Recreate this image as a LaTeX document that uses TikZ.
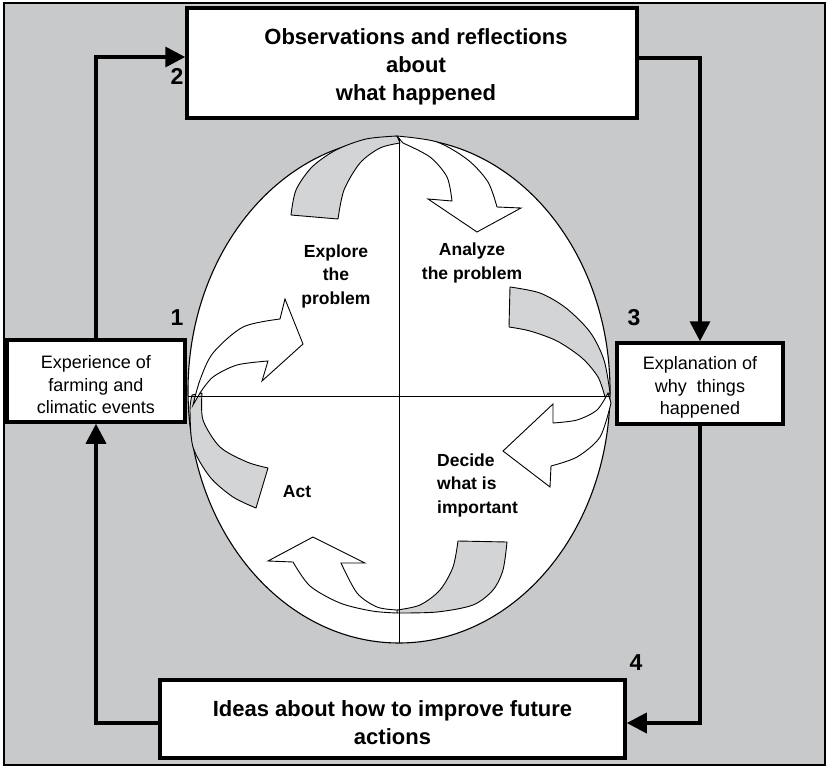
\documentclass[tikz,border=0pt]{standalone}
\usepackage{fontspec}
\setmainfont{Liberation Sans}
\usetikzlibrary{arrows.meta,shapes.geometric}
\definecolor{bg}{HTML}{C8C9CB}
\definecolor{band}{HTML}{D3D4D6}
\begin{document}
\begin{tikzpicture}[x=1pt,y=-1pt,
  box/.style={draw=black, line width=3.5pt, fill=white, inner sep=0pt},
  boxtext/.style={align=center, inner sep=0pt},
  bigtext/.style={font=\fontsize{22}{28}\selectfont\bfseries},
  smalltext/.style={font=\fontsize{18}{22.5}\selectfont},
  quadtext/.style={font=\fontsize{17.5}{23.5}\selectfont\bfseries, inner sep=0pt},
  numtext/.style={font=\fontsize{23}{26}\selectfont\bfseries, inner sep=0pt},
  conn/.style={line width=3.5pt, -{Triangle[length=20pt,width=20pt]}},
  grayband/.style={fill=band, draw=black, line width=0.9pt, line join=round},
  whitearrow/.style={fill=white, draw=black, line width=0.9pt, line join=miter},
  thin/.style={draw=black, line width=1pt}]
\useasboundingbox (0,0) rectangle (830,768);
\draw[fill=bg, line width=2pt] (3.5,3.5) rectangle (824.5,765);

% central egg
\node[ellipse, draw=black, line width=1.1pt, fill=white, inner sep=0pt, outer sep=0pt,
      minimum width=422pt, minimum height=505pt] (egg) at (399,390.5) {};

% top: gray band + white arrow
\filldraw[grayband] plot[smooth] coordinates {(291,215) (296,190) (312,167) (336,150) (366,139) (397,136)}
  -- plot[smooth] coordinates {(400,143) (380,148) (360,163) (344,190) (338,219)} -- cycle;
\filldraw[whitearrow] plot[smooth] coordinates {(397,136) (437,142) (468,160) (488,182) (497,207)}
  -- (521,208) -- (477,232) -- (428,199)
  -- plot[smooth] coordinates {(452,201) (447,177) (430,157) (403,143)} -- cycle;

% right: gray band + white arrow
\filldraw[grayband] plot[smooth] coordinates {(510,287) (540,293) (566,308) (590,332) (604,360) (610,393)}
  -- plot[smooth] coordinates {(605,397) (598,377) (582,358) (557,341) (530,331) (509,327)} -- cycle;
\filldraw[whitearrow] plot[smooth] coordinates {(608,393) (597,410) (577,420) (553,423)}
  -- (553,404) -- (503,451) -- (550,487)
  -- plot[smooth] coordinates {(551,466) (577,457) (600,437) (611,403)} -- cycle;

% bottom: gray band + white arrow
\filldraw[grayband] plot[smooth] coordinates {(458,541) (453,567) (440,590) (420,605) (397,610)}
  -- plot[smooth] coordinates {(397,613) (437,612) (473,605) (493,590) (503,570) (507,542)} -- cycle;
\filldraw[whitearrow] plot[smooth] coordinates {(397,613) (372,611) (340,603) (310,586) (293,562)}
  -- (268,561) -- (313,537) -- (365,563)
  -- plot[smooth] coordinates {(341,563) (357,593) (377,607) (397,610)} -- cycle;

% left: gray band + white arrow
\filldraw[grayband] plot[smooth] coordinates {(202,393) (203,420) (220,447) (247,462) (268,468)}
  -- plot[smooth] coordinates {(256,508) (233,497) (210,477) (193,447) (190,410) (192,395)} -- cycle;
\filldraw[whitearrow] plot[smooth] coordinates {(200,393) (213,377) (237,365) (268,361)}
  -- (262,381) -- (303,344) -- (285,299)
  -- plot[smooth] coordinates {(280,319) (243,327) (213,353) (200,380) (193,405)} -- cycle;

% quadrant lines
\draw[thin] (egg.north) -- (egg.south);
\draw[thin] ([yshift=-5.5pt]egg.west) -- ([yshift=-5.5pt]egg.east);

% quadrant labels
\node[quadtext, align=center] (explore) at (336,276) {Explore\\the\\problem};
\node[quadtext, align=center] (analyze) at (472,263) {Analyze\\the problem};
\node[quadtext, align=left, anchor=west] (decide) at (437,485) {Decide\\what is\\important};
\node[quadtext] (act) at (297,492) {Act};

% boxes
\node[box, minimum width=450pt, minimum height=110pt] (obs) at (412,63) {};
\node[boxtext, bigtext] (obstext) at ([xshift=4pt,yshift=-4pt]obs.center)
  {Observations and reflections\\about\\what happened};
\node[box, minimum width=178pt, minimum height=82pt] (exp) at (96,381) {};
\node[boxtext, smalltext] (exptext) at ([yshift=-4pt]exp.center)
  {Experience of\\farming and\\climatic events};
\node[box, minimum width=166pt, minimum height=81pt] (expl) at (700,383.5) {};
\node[boxtext, smalltext] (expltext) at ([yshift=-4pt]expl.center)
  {Explanation of\\why\ \ things\\happened};
\node[box, minimum width=465pt, minimum height=78pt] (ideas) at (392.5,719) {};
\node[boxtext, bigtext] (ideastext) at ([yshift=-4pt]ideas.center)
  {Ideas about how to improve future\\actions};

% connectors
\draw[conn] (exp.north) |- ([yshift=6pt]obs.west);
\draw[conn] ([yshift=5pt]obs.east) -| (expl.north);
\draw[conn] (expl.south) |- ([yshift=-4pt]ideas.east);
\draw[conn] ([yshift=-4pt]ideas.west) -| (exp.south);

% numbers
\node[numtext] (n1) at (177,318) {1};
\node[numtext] (n2) at (177,76) {2};
\node[numtext] (n3) at (634,318) {3};
\node[numtext] (n4) at (636,663) {4};
\end{tikzpicture}
\end{document}
